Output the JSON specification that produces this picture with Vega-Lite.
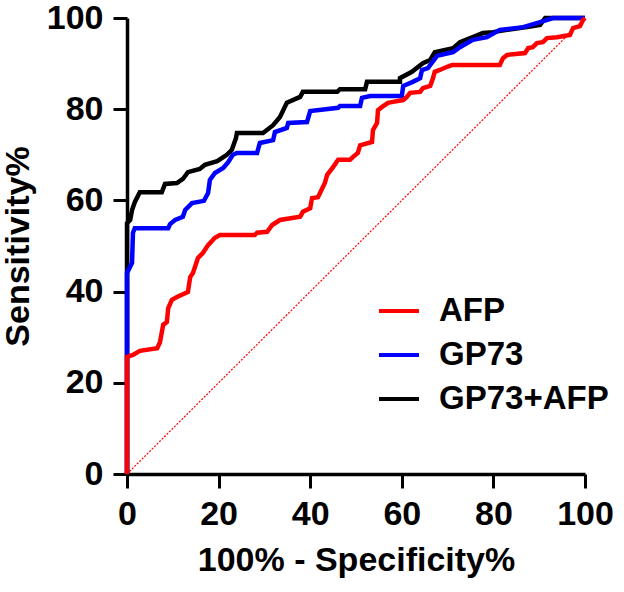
{
  "$schema": "https://vega.github.io/schema/vega-lite/v6.json",
  "autosize": {"type": "none"},
  "padding": {"left": 127, "top": 18, "right": 39, "bottom": 118},
  "width": 458,
  "height": 456,
  "background": "white",
  "config": {
    "view": {"stroke": null},
    "axis": {
      "grid": false,
      "domainColor": "black",
      "domainWidth": 3.5,
      "tickColor": "black",
      "tickWidth": 3,
      "tickSize": 14,
      "labelFont": "Liberation Sans Narrow, Liberation Sans",
      "labelFontWeight": "bold",
      "labelFontSize": 34,
      "labelColor": "black",
      "titleFont": "Liberation Sans",
      "titleFontWeight": "bold",
      "titleFontSize": 34,
      "titleColor": "black"
    },
    "legend": {
      "labelFont": "Liberation Sans",
      "labelFontWeight": "bold",
      "labelFontSize": 33,
      "labelColor": "black",
      "labelLimit": 0
    }
  },
  "datasets": {
    "roc": [
      {"series": "GP73+AFP", "i": 0, "fpr": 0, "sens": 0},
      {"series": "GP73+AFP", "i": 1, "fpr": 0, "sens": 44.7},
      {"series": "GP73+AFP", "i": 2, "fpr": 0, "sens": 55.0},
      {"series": "GP73+AFP", "i": 3, "fpr": 0.7, "sens": 55.7},
      {"series": "GP73+AFP", "i": 4, "fpr": 1.1, "sens": 57.9},
      {"series": "GP73+AFP", "i": 5, "fpr": 1.7, "sens": 59.6},
      {"series": "GP73+AFP", "i": 6, "fpr": 2.8, "sens": 61.8},
      {"series": "GP73+AFP", "i": 7, "fpr": 7.6, "sens": 61.8},
      {"series": "GP73+AFP", "i": 8, "fpr": 8.3, "sens": 63.6},
      {"series": "GP73+AFP", "i": 9, "fpr": 10.9, "sens": 63.8},
      {"series": "GP73+AFP", "i": 10, "fpr": 12.2, "sens": 64.7},
      {"series": "GP73+AFP", "i": 11, "fpr": 13.3, "sens": 66.2},
      {"series": "GP73+AFP", "i": 12, "fpr": 15.9, "sens": 66.9},
      {"series": "GP73+AFP", "i": 13, "fpr": 17.0, "sens": 67.8},
      {"series": "GP73+AFP", "i": 14, "fpr": 19.7, "sens": 68.6},
      {"series": "GP73+AFP", "i": 15, "fpr": 21.8, "sens": 70.0},
      {"series": "GP73+AFP", "i": 16, "fpr": 22.9, "sens": 71.1},
      {"series": "GP73+AFP", "i": 17, "fpr": 23.8, "sens": 73.7},
      {"series": "GP73+AFP", "i": 18, "fpr": 24.0, "sens": 74.8},
      {"series": "GP73+AFP", "i": 19, "fpr": 29.7, "sens": 74.8},
      {"series": "GP73+AFP", "i": 20, "fpr": 31.9, "sens": 76.5},
      {"series": "GP73+AFP", "i": 21, "fpr": 33.4, "sens": 78.3},
      {"series": "GP73+AFP", "i": 22, "fpr": 34.9, "sens": 81.4},
      {"series": "GP73+AFP", "i": 23, "fpr": 37.8, "sens": 82.7},
      {"series": "GP73+AFP", "i": 24, "fpr": 38.4, "sens": 83.8},
      {"series": "GP73+AFP", "i": 25, "fpr": 45.9, "sens": 83.8},
      {"series": "GP73+AFP", "i": 26, "fpr": 46.5, "sens": 84.4},
      {"series": "GP73+AFP", "i": 27, "fpr": 52.0, "sens": 84.4},
      {"series": "GP73+AFP", "i": 28, "fpr": 52.4, "sens": 86.0},
      {"series": "GP73+AFP", "i": 29, "fpr": 59.6, "sens": 86.0},
      {"series": "GP73+AFP", "i": 30, "fpr": 59.6, "sens": 86.8},
      {"series": "GP73+AFP", "i": 31, "fpr": 62.2, "sens": 88.2},
      {"series": "GP73+AFP", "i": 32, "fpr": 64.6, "sens": 90.1},
      {"series": "GP73+AFP", "i": 33, "fpr": 66.2, "sens": 90.8},
      {"series": "GP73+AFP", "i": 34, "fpr": 67.2, "sens": 92.5},
      {"series": "GP73+AFP", "i": 35, "fpr": 71.2, "sens": 93.4},
      {"series": "GP73+AFP", "i": 36, "fpr": 72.7, "sens": 94.7},
      {"series": "GP73+AFP", "i": 37, "fpr": 75.5, "sens": 95.8},
      {"series": "GP73+AFP", "i": 38, "fpr": 77.7, "sens": 96.7},
      {"series": "GP73+AFP", "i": 39, "fpr": 79.9, "sens": 96.9},
      {"series": "GP73+AFP", "i": 40, "fpr": 83.0, "sens": 97.4},
      {"series": "GP73+AFP", "i": 41, "fpr": 87.3, "sens": 98.0},
      {"series": "GP73+AFP", "i": 42, "fpr": 90.2, "sens": 98.5},
      {"series": "GP73+AFP", "i": 43, "fpr": 91.3, "sens": 100},
      {"series": "GP73+AFP", "i": 44, "fpr": 100, "sens": 100},

      {"series": "GP73", "i": 0, "fpr": 0, "sens": 0},
      {"series": "GP73", "i": 1, "fpr": 0, "sens": 44.1},
      {"series": "GP73", "i": 2, "fpr": 1.1, "sens": 46.3},
      {"series": "GP73", "i": 3, "fpr": 1.3, "sens": 52.9},
      {"series": "GP73", "i": 4, "fpr": 1.7, "sens": 53.9},
      {"series": "GP73", "i": 5, "fpr": 9.0, "sens": 53.9},
      {"series": "GP73", "i": 6, "fpr": 9.4, "sens": 54.8},
      {"series": "GP73", "i": 7, "fpr": 10.5, "sens": 55.7},
      {"series": "GP73", "i": 8, "fpr": 12.2, "sens": 56.4},
      {"series": "GP73", "i": 9, "fpr": 12.7, "sens": 57.9},
      {"series": "GP73", "i": 10, "fpr": 14.2, "sens": 59.4},
      {"series": "GP73", "i": 11, "fpr": 16.8, "sens": 59.9},
      {"series": "GP73", "i": 12, "fpr": 17.7, "sens": 61.6},
      {"series": "GP73", "i": 13, "fpr": 18.1, "sens": 64.5},
      {"series": "GP73", "i": 14, "fpr": 19.2, "sens": 66.0},
      {"series": "GP73", "i": 15, "fpr": 21.0, "sens": 67.1},
      {"series": "GP73", "i": 16, "fpr": 22.1, "sens": 68.4},
      {"series": "GP73", "i": 17, "fpr": 23.1, "sens": 70.0},
      {"series": "GP73", "i": 18, "fpr": 24.0, "sens": 70.4},
      {"series": "GP73", "i": 19, "fpr": 28.4, "sens": 70.4},
      {"series": "GP73", "i": 20, "fpr": 29.0, "sens": 72.6},
      {"series": "GP73", "i": 21, "fpr": 31.9, "sens": 73.2},
      {"series": "GP73", "i": 22, "fpr": 32.3, "sens": 75.0},
      {"series": "GP73", "i": 23, "fpr": 34.9, "sens": 75.9},
      {"series": "GP73", "i": 24, "fpr": 35.2, "sens": 77.0},
      {"series": "GP73", "i": 25, "fpr": 39.3, "sens": 77.2},
      {"series": "GP73", "i": 26, "fpr": 40.0, "sens": 79.6},
      {"series": "GP73", "i": 27, "fpr": 46.1, "sens": 80.3},
      {"series": "GP73", "i": 28, "fpr": 46.5, "sens": 80.7},
      {"series": "GP73", "i": 29, "fpr": 50.9, "sens": 80.7},
      {"series": "GP73", "i": 30, "fpr": 51.3, "sens": 82.5},
      {"series": "GP73", "i": 31, "fpr": 53.1, "sens": 82.9},
      {"series": "GP73", "i": 32, "fpr": 60.0, "sens": 82.9},
      {"series": "GP73", "i": 33, "fpr": 60.3, "sens": 85.1},
      {"series": "GP73", "i": 34, "fpr": 62.4, "sens": 86.0},
      {"series": "GP73", "i": 35, "fpr": 64.0, "sens": 86.8},
      {"series": "GP73", "i": 36, "fpr": 64.4, "sens": 88.6},
      {"series": "GP73", "i": 37, "fpr": 65.7, "sens": 89.0},
      {"series": "GP73", "i": 38, "fpr": 67.7, "sens": 91.7},
      {"series": "GP73", "i": 39, "fpr": 71.2, "sens": 92.5},
      {"series": "GP73", "i": 40, "fpr": 72.7, "sens": 93.6},
      {"series": "GP73", "i": 41, "fpr": 75.5, "sens": 95.2},
      {"series": "GP73", "i": 42, "fpr": 78.6, "sens": 95.8},
      {"series": "GP73", "i": 43, "fpr": 81.4, "sens": 97.4},
      {"series": "GP73", "i": 44, "fpr": 86.5, "sens": 98.0},
      {"series": "GP73", "i": 45, "fpr": 90.2, "sens": 99.1},
      {"series": "GP73", "i": 46, "fpr": 93.0, "sens": 100},
      {"series": "GP73", "i": 47, "fpr": 100, "sens": 100},

      {"series": "AFP", "i": 0, "fpr": 0, "sens": 0},
      {"series": "AFP", "i": 1, "fpr": 0, "sens": 25.7},
      {"series": "AFP", "i": 2, "fpr": 1.3, "sens": 26.1},
      {"series": "AFP", "i": 3, "fpr": 2.8, "sens": 27.0},
      {"series": "AFP", "i": 4, "fpr": 6.6, "sens": 27.6},
      {"series": "AFP", "i": 5, "fpr": 7.2, "sens": 28.9},
      {"series": "AFP", "i": 6, "fpr": 7.9, "sens": 32.7},
      {"series": "AFP", "i": 7, "fpr": 8.7, "sens": 33.3},
      {"series": "AFP", "i": 8, "fpr": 9.0, "sens": 36.4},
      {"series": "AFP", "i": 9, "fpr": 9.8, "sens": 38.2},
      {"series": "AFP", "i": 10, "fpr": 10.9, "sens": 38.8},
      {"series": "AFP", "i": 11, "fpr": 13.3, "sens": 39.9},
      {"series": "AFP", "i": 12, "fpr": 13.8, "sens": 43.2},
      {"series": "AFP", "i": 13, "fpr": 14.4, "sens": 44.1},
      {"series": "AFP", "i": 14, "fpr": 15.5, "sens": 47.4},
      {"series": "AFP", "i": 15, "fpr": 16.6, "sens": 48.5},
      {"series": "AFP", "i": 16, "fpr": 17.7, "sens": 50.2},
      {"series": "AFP", "i": 17, "fpr": 19.2, "sens": 51.8},
      {"series": "AFP", "i": 18, "fpr": 20.3, "sens": 52.4},
      {"series": "AFP", "i": 19, "fpr": 27.9, "sens": 52.4},
      {"series": "AFP", "i": 20, "fpr": 28.4, "sens": 52.9},
      {"series": "AFP", "i": 21, "fpr": 30.6, "sens": 53.1},
      {"series": "AFP", "i": 22, "fpr": 31.7, "sens": 54.6},
      {"series": "AFP", "i": 23, "fpr": 33.4, "sens": 55.7},
      {"series": "AFP", "i": 24, "fpr": 37.8, "sens": 56.4},
      {"series": "AFP", "i": 25, "fpr": 38.4, "sens": 57.5},
      {"series": "AFP", "i": 26, "fpr": 40.0, "sens": 58.3},
      {"series": "AFP", "i": 27, "fpr": 40.4, "sens": 60.5},
      {"series": "AFP", "i": 28, "fpr": 41.7, "sens": 60.7},
      {"series": "AFP", "i": 29, "fpr": 43.2, "sens": 63.8},
      {"series": "AFP", "i": 30, "fpr": 43.7, "sens": 65.6},
      {"series": "AFP", "i": 31, "fpr": 45.0, "sens": 67.3},
      {"series": "AFP", "i": 32, "fpr": 46.1, "sens": 68.9},
      {"series": "AFP", "i": 33, "fpr": 48.7, "sens": 68.9},
      {"series": "AFP", "i": 34, "fpr": 49.3, "sens": 69.5},
      {"series": "AFP", "i": 35, "fpr": 50.4, "sens": 70.4},
      {"series": "AFP", "i": 36, "fpr": 50.9, "sens": 72.1},
      {"series": "AFP", "i": 37, "fpr": 53.5, "sens": 72.8},
      {"series": "AFP", "i": 38, "fpr": 53.7, "sens": 75.4},
      {"series": "AFP", "i": 39, "fpr": 54.6, "sens": 77.0},
      {"series": "AFP", "i": 40, "fpr": 54.8, "sens": 79.8},
      {"series": "AFP", "i": 41, "fpr": 55.7, "sens": 80.5},
      {"series": "AFP", "i": 42, "fpr": 57.0, "sens": 81.4},
      {"series": "AFP", "i": 43, "fpr": 58.1, "sens": 81.6},
      {"series": "AFP", "i": 44, "fpr": 60.3, "sens": 82.0},
      {"series": "AFP", "i": 45, "fpr": 61.1, "sens": 82.7},
      {"series": "AFP", "i": 46, "fpr": 61.8, "sens": 83.6},
      {"series": "AFP", "i": 47, "fpr": 64.0, "sens": 83.8},
      {"series": "AFP", "i": 48, "fpr": 64.6, "sens": 84.6},
      {"series": "AFP", "i": 49, "fpr": 66.2, "sens": 85.1},
      {"series": "AFP", "i": 50, "fpr": 66.8, "sens": 86.8},
      {"series": "AFP", "i": 51, "fpr": 67.2, "sens": 88.2},
      {"series": "AFP", "i": 52, "fpr": 68.3, "sens": 88.6},
      {"series": "AFP", "i": 53, "fpr": 69.9, "sens": 89.3},
      {"series": "AFP", "i": 54, "fpr": 71.0, "sens": 89.7},
      {"series": "AFP", "i": 55, "fpr": 81.4, "sens": 89.7},
      {"series": "AFP", "i": 56, "fpr": 82.1, "sens": 91.2},
      {"series": "AFP", "i": 57, "fpr": 83.0, "sens": 91.9},
      {"series": "AFP", "i": 58, "fpr": 86.9, "sens": 92.3},
      {"series": "AFP", "i": 59, "fpr": 87.6, "sens": 93.4},
      {"series": "AFP", "i": 60, "fpr": 88.6, "sens": 93.6},
      {"series": "AFP", "i": 61, "fpr": 89.5, "sens": 94.5},
      {"series": "AFP", "i": 62, "fpr": 90.8, "sens": 94.7},
      {"series": "AFP", "i": 63, "fpr": 91.7, "sens": 95.6},
      {"series": "AFP", "i": 64, "fpr": 93.9, "sens": 95.8},
      {"series": "AFP", "i": 65, "fpr": 96.7, "sens": 96.3},
      {"series": "AFP", "i": 66, "fpr": 97.4, "sens": 97.8},
      {"series": "AFP", "i": 67, "fpr": 98.9, "sens": 98.2},
      {"series": "AFP", "i": 68, "fpr": 99.6, "sens": 99.6},
      {"series": "AFP", "i": 69, "fpr": 100, "sens": 100}
    ],
    "diagonal": [
      {"fpr": 0, "sens": 0},
      {"fpr": 100, "sens": 100}
    ]
  },
  "layer": [
    {
      "data": {"name": "diagonal"},
      "mark": {"type": "line", "color": "#ff0000", "strokeWidth": 1.2, "strokeDash": [2, 1.5], "clip": false},
      "encoding": {
        "x": {"field": "fpr", "type": "quantitative"},
        "y": {"field": "sens", "type": "quantitative"}
      }
    },
    {
      "data": {"name": "roc"},
      "mark": {"type": "line", "strokeWidth": 4.5, "clip": false},
      "encoding": {
        "x": {
          "field": "fpr",
          "type": "quantitative",
          "title": "100% - Specificity%",
          "scale": {"domain": [0, 100], "nice": false, "zero": false},
          "axis": {"values": [0, 20, 40, 60, 80, 100], "labelPadding": 9, "titlePadding": 12, "labelFlush": false}
        },
        "y": {
          "field": "sens",
          "type": "quantitative",
          "title": "Sensitivity%",
          "scale": {"domain": [0, 100], "nice": false, "zero": false},
          "axis": {"values": [0, 20, 40, 60, 80, 100], "labelPadding": 10, "titlePadding": 11, "labelFlush": false}
        },
        "color": {
          "field": "series",
          "type": "nominal",
          "scale": {"domain": ["AFP", "GP73", "GP73+AFP"], "range": ["#ff0000", "#0000ff", "#000000"]},
          "legend": {
            "title": null,
            "orient": "none",
            "legendX": 250,
            "legendY": 271,
            "symbolType": "stroke",
            "symbolSize": 1600,
            "symbolStrokeWidth": 4,
            "labelOffset": 18,
            "rowPadding": 5
          }
        },
        "order": {"field": "i", "type": "quantitative"}
      }
    }
  ]
}
